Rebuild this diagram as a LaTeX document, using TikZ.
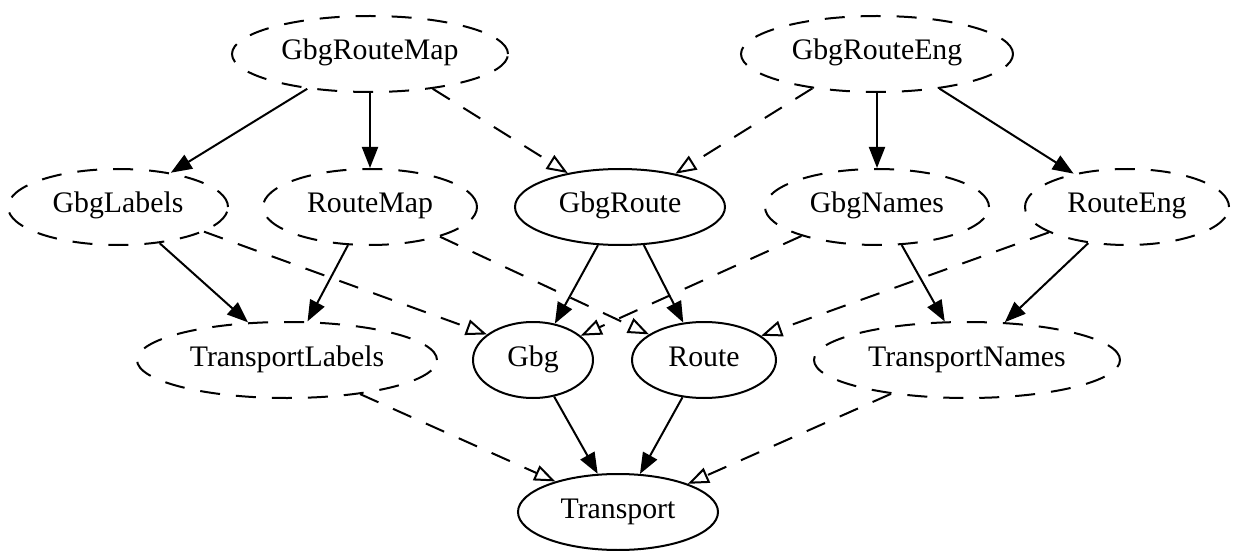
\documentclass[tikz,border=0pt]{standalone}
\usepackage{fontspec}
\setmainfont{Liberation Serif}
\usetikzlibrary{shapes.geometric,arrows.meta}

\tikzset{
  dep/.style={ellipse, draw, line width=1pt, inner sep=0pt,
              minimum height=38pt, text height=0.7em, text depth=0.1em,
              font=\fontsize{14.9}{16}\selectfont},
  opt/.style={dep, dash pattern=on 10pt off 8pt},
  must/.style={line width=1pt,
               -{Triangle[length=10.5pt, width=8pt]}},
  may/.style={line width=1pt, dash pattern=on 10pt off 8pt,
              -{Triangle[open, length=10.5pt, width=8pt, line width=1pt]}},
}

\begin{document}
\begin{tikzpicture}[x=0.5pt, y=-0.5pt]
  \useasboundingbox (0,0) rectangle (1237,551);
  \fill[white] (0,0) rectangle (1237,551);

  % top row
  \node[opt, minimum width=138pt] (grm) at (370,54)  {GbgRouteMap};
  \node[opt, minimum width=136pt] (gre) at (877,54)  {GbgRouteEng};
  % second row
  \node[opt, minimum width=110pt] (gl)  at (118,207) {GbgLabels};
  \node[opt, minimum width=107pt] (rm)  at (370,207) {RouteMap};
  \node[dep, minimum width=105pt] (gr)  at (620,207) {GbgRoute};
  \node[opt, minimum width=112pt] (gn)  at (877,207) {GbgNames};
  \node[opt, minimum width=102pt] (re)  at (1127,207) {RouteEng};
  % third row
  \node[opt, minimum width=150pt] (tl)  at (287,360) {TransportLabels};
  \node[dep, minimum width=60pt]  (g)   at (533,360) {Gbg};
  \node[dep, minimum width=72pt]  (r)   at (704,360) {Route};
  \node[opt, minimum width=153pt] (tn)  at (967,360) {TransportNames};
  % bottom
  \node[dep, minimum width=100pt] (t)   at (618,512) {Transport};

  % required dependencies
  \draw[must] (grm.209) -- (gl.33);
  \draw[must] (grm.270) -- (rm.90);
  \draw[must] (gre.270) -- (gn.90);
  \draw[must] (gre.331) -- (re.148);
  \draw[must] (gl.319)  -- (tl.136);
  \draw[must] (rm.240)  -- (tl.62);
  \draw[must] (gr.240)  -- (g.59);
  \draw[must] (gr.302)  -- (r.119);
  \draw[must] (gn.303)  -- (tn.120);
  \draw[must] (re.223)  -- (tn.45);
  \draw[must] (g.300)   -- (t.118);
  \draw[must] (r.240)   -- (t.60);

  % optional dependencies
  \draw[may] (grm.331) -- (gr.147);
  \draw[may] (gre.208) -- (gr.31);
  \draw[may] (gl.344)  -- (g.151);
  \draw[may] (rm.337)  -- (r.155);
  \draw[may] (gn.201)  -- (g.27);
  \draw[may] (re.198)  -- (r.23);
  \draw[may] (tl.335)  -- (t.154);
  \draw[may] (tn.204)  -- (t.22);
\end{tikzpicture}
\end{document}
